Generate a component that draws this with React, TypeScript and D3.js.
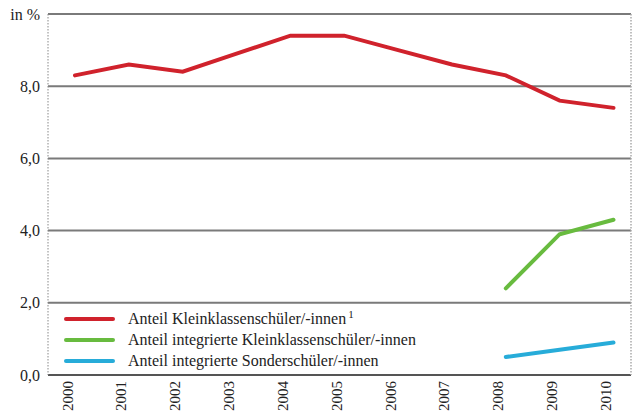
import React from "react";
import * as d3 from "d3";

const years = [2000, 2001, 2002, 2003, 2004, 2005, 2006, 2007, 2008, 2009, 2010];
const kleinklassen = [8.3, 8.6, 8.4, 8.9, 9.4, 9.4, 9.0, 8.6, 8.3, 7.6, 7.4];
const integKlein: (number | null)[] = [null, null, null, null, null, null, null, null, 2.4, 3.9, 4.3];
const integSonder: (number | null)[] = [null, null, null, null, null, null, null, null, 0.5, 0.7, 0.9];
const yTicks = [0, 2, 4, 6, 8, 10];
const seriesNames = [
  "Anteil Kleinklassenschüler/-innen",
  "Anteil integrierte Kleinklassenschüler/-innen",
  "Anteil integrierte Sonderschüler/-innen",
];
const colors = ["#d0222c", "#68bb3f", "#27acd9"];

const W = 640, H = 414;
const left = 48, right = 631, top = 14, bottom = 375;
const font = "'Liberation Serif', 'DejaVu Serif', serif";

export default function App() {
  const x = d3.scaleLinear().domain([2000, 2010]).range([75, 613.5]);
  const y = d3.scaleLinear().domain([0, 10]).range([bottom, top]);
  const line = d3
    .line<number | null>()
    .defined((d) => d != null)
    .x((_, i) => x(years[i]))
    .y((d) => y(d as number));
  const allSeries = [kleinklassen, integKlein, integSonder];
  const fmt = (v: number) => v.toFixed(1).replace(".", ",");

  return (
    <svg width={W} height={H} style={{ position: "absolute", left: 0, top: 0 }}>
      <rect width={W} height={H} fill="#fff" />
      {yTicks.map((t) => (
        <g key={t}>
          <line x1={left} x2={right} y1={y(t)} y2={y(t)} stroke={t === 0 ? "#555" : "#7a7a7a"} strokeWidth={2} />
          {t < 10 && (
            <text x={40} y={y(t) + 5.5} textAnchor="end" fontFamily={font} fontSize={16} fill="#222">
              {fmt(t)}
            </text>
          )}
        </g>
      ))}
      <text x={40} y={y(10) + 5.5} textAnchor="end" fontFamily={font} fontSize={16} fill="#222">
        in %
      </text>
      <line x1={left} x2={left} y1={top} y2={bottom} stroke="#888" strokeWidth={1} strokeDasharray="1.5,1.5" />
      <line x1={right} x2={right} y1={top} y2={bottom} stroke="#aaa" strokeWidth={1.5} strokeDasharray="1.5,1.5" />
      {allSeries.map((s, i) => (
        <path key={i} d={line(s) || ""} fill="none" stroke={colors[i]} strokeWidth={4} strokeLinecap="round" strokeLinejoin="miter" />
      ))}
      {years.map((yr) => (
        <text
          key={yr}
          transform={`translate(${x(yr) - 2.5},${381}) rotate(-90)`}
          textAnchor="end"
          fontFamily={font}
          fontSize={15}
          fill="#222"
        >
          {yr}
        </text>
      ))}
      {seriesNames.map((name, i) => {
        const ly = 319 + i * 21;
        return (
          <g key={name}>
            <line x1={66} x2={113} y1={ly} y2={ly} stroke={colors[i]} strokeWidth={4} strokeLinecap="round" />
            <text x={128} y={ly + 5} fontFamily={font} fontSize={16} fill="#222">
              {name}
              {i === 0 && (
                <tspan dx={2} dy={-6} fontSize={11}>
                  1
                </tspan>
              )}
            </text>
          </g>
        );
      })}
    </svg>
  );
}
